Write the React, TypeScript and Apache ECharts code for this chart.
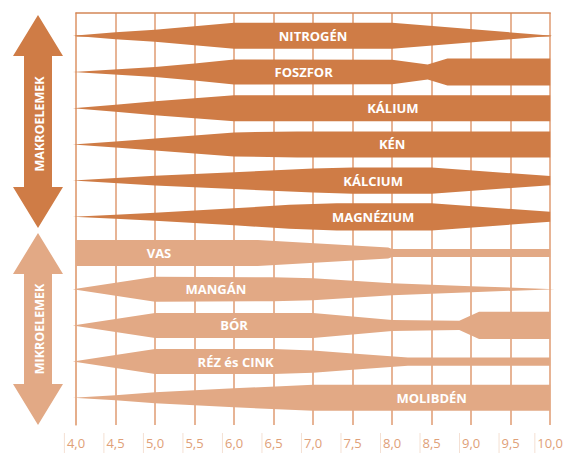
import React, { useEffect, useRef } from "react";
import * as echarts from "echarts";

// pH tick labels
const PH_TICKS = ["4,0", "4,5", "5,0", "5,5", "6,0", "6,5", "7,0", "7,5", "8,0", "8,5", "9,0", "9,5", "10,0"];

// nutrients (top to bottom)
const NUTRIENTS = ["NITROGÉN", "FOSZFOR", "KÁLIUM", "KÉN", "KÁLCIUM", "MAGNÉZIUM", "VAS", "MANGÁN", "BÓR", "RÉZ és CINK", "MOLIBDÉN"];
const IS_MACRO = [true, true, true, true, true, true, false, false, false, false, false];

// availability profiles: [pH, relative availability 0..100]
const NITROGEN = [[3.96, 0], [4.5, 27], [5, 46], [5.5, 73], [6, 100], [8, 100], [10.03, 0]];
const FOSZFOR = [[3.96, 0], [5, 38], [5.5, 65], [6, 96], [8, 94], [8.45, 58], [8.7, 104], [10, 104]];
const KALIUM = [[3.96, 0], [4.5, 27], [5, 54], [5.5, 77], [6, 100], [10, 100]];
const KEN = [[3.96, 0], [4.5, 23], [5, 46], [6, 92], [6.8, 100], [10, 100]];
const KALCIUM = [[3.96, 0], [5, 38], [6, 65], [7, 92], [7.5, 100], [8.5, 100], [10, 35]];
const MAGNEZIUM = [[3.96, 0], [4.5, 15], [5, 31], [6, 65], [6.7, 92], [7.3, 105], [8.5, 105], [10, 38]];
const VAS = [[4, 100], [6.3, 100], [7.95, 42], [8.0, 31], [10, 31]];
const MANGAN = [[3.96, 0], [5, 96], [6.5, 92], [7, 85], [8, 46], [9, 23], [10.06, 0]];
const BOR = [[3.96, 0], [5, 96], [7, 96], [8, 42], [8.85, 35], [9.1, 104], [10, 104]];
const REZ_CINK = [[3.96, 0], [5, 96], [6.5, 96], [7, 85], [7.5, 62], [8.2, 31], [10, 31]];
const MOLIBDEN = [[3.96, 0], [4.5, 19], [5, 42], [6, 73], [7, 100], [10, 100]];

const PROFILES = [NITROGEN, FOSZFOR, KALIUM, KEN, KALCIUM, MAGNEZIUM, VAS, MANGAN, BOR, REZ_CINK, MOLIBDEN];

// pH at which each name is written
const LABEL_PH = [7.0, 6.88, 8.01, 8.0, 7.76, 7.76, 5.05, 5.77, 6.0, 6.02, 8.5];

const DARK = "#CF7C46";
const LIGHT = "#E2A985";
const HALF = 0.0036; // row units per availability unit

export default function App() {
  const ref = useRef<HTMLDivElement>(null);

  useEffect(() => {
    if (!ref.current) return;
    const chart = echarts.init(ref.current, null, { renderer: "svg" });

    const renderItem = (params: any, api: any) => {
      const i = params.dataIndex;
      const prof = PROFILES[i];
      const top = prof.map(([ph, v]) => api.coord([ph, i - v * HALF]));
      const bot = prof
        .slice()
        .reverse()
        .map(([ph, v]) => api.coord([ph, i + v * HALF]));
      const lp = api.coord([LABEL_PH[i], i]);
      return {
        type: "group",
        children: [
          {
            type: "polygon",
            shape: { points: top.concat(bot) },
            style: { fill: IS_MACRO[i] ? DARK : LIGHT },
          },
          {
            type: "text",
            x: lp[0],
            y: lp[1],
            style: {
              text: NUTRIENTS[i],
              fill: "#ffffff",
              font: 'bold 13px "Open Sans"',
              align: "center",
              verticalAlign: "middle",
            },
          },
        ],
      };
    };

    const arrow = (y0: number, y1: number, color: string) => {
      const cx = 38;
      const hw = 25;
      const sw = 14;
      const hh = 41;
      return {
        type: "polygon",
        shape: {
          points: [
            [cx, y0],
            [cx + hw, y0 + hh],
            [cx + sw, y0 + hh],
            [cx + sw, y1 - hh],
            [cx + hw, y1 - hh],
            [cx, y1],
            [cx - hw, y1 - hh],
            [cx - sw, y1 - hh],
            [cx - sw, y0 + hh],
            [cx - hw, y0 + hh],
          ],
        },
        style: { fill: color },
      };
    };

    chart.setOption({
      animation: false,
      grid: { left: 76, right: 15, top: 13, bottom: 28, containLabel: false },
      xAxis: [
        {
          type: "value",
          min: 4,
          max: 10,
          interval: 0.5,
          axisLine: { show: true, lineStyle: { color: "#D99668", width: 1.5 } },
          axisTick: { show: false },
          splitLine: { show: true, lineStyle: { color: "#E7B495", width: 2 } },
          axisLabel: {
            margin: 8,
            formatter: (v: number) => {
              const idx = Math.round((v - 4) / 0.5);
              return `{s|}{t|${PH_TICKS[idx]}}`;
            },
            rich: {
              s: { width: 1, height: 20, backgroundColor: "#F4E0D3" },
              t: {
                color: "#E0A078",
                fontSize: 13,
                fontFamily: "Open Sans",
                lineHeight: 20,
                padding: [0, 3, 0, 2],
              },
            },
          },
        },
        {
          type: "value",
          position: "top",
          min: 4,
          max: 10,
          interval: 0.5,
          axisLine: { show: true, lineStyle: { color: "#D48657", width: 1.5 } },
          axisTick: { show: false },
          axisLabel: { show: false },
          splitLine: { show: false },
        },
      ],
      yAxis: {
        type: "value",
        inverse: true,
        min: -0.63,
        max: 10.751,
        axisLine: { show: true, lineStyle: { color: "#E4AC88", width: 1.5 } },
        axisTick: { show: false },
        axisLabel: { show: false },
        splitLine: { show: false },
      },
      graphic: [
        arrow(15, 228, DARK),
        arrow(233, 425, LIGHT),
        {
          type: "text",
          x: 39,
          y: 124,
          rotation: Math.PI / 2,
          style: {
            text: "MAKROELEMEK",
            fill: "#ffffff",
            font: 'bold 12.5px "Open Sans"',
            align: "center",
            verticalAlign: "middle",
          },
        },
        {
          type: "text",
          x: 39,
          y: 329,
          rotation: Math.PI / 2,
          style: {
            text: "MIKROELEMEK",
            fill: "#ffffff",
            font: 'bold 12.5px "Open Sans"',
            align: "center",
            verticalAlign: "middle",
          },
        },
      ],
      series: [
        {
          type: "custom",
          renderItem,
          encode: { x: 0, y: 1 },
          data: NUTRIENTS.map((_, i) => [4, i]),
          clip: false,
        },
      ],
    });

    return () => chart.dispose();
  }, []);

  return (
    <div
      ref={ref}
      style={{ position: "fixed", left: 0, top: 0, width: 569, height: 453, background: "#ffffff" }}
    />
  );
}
